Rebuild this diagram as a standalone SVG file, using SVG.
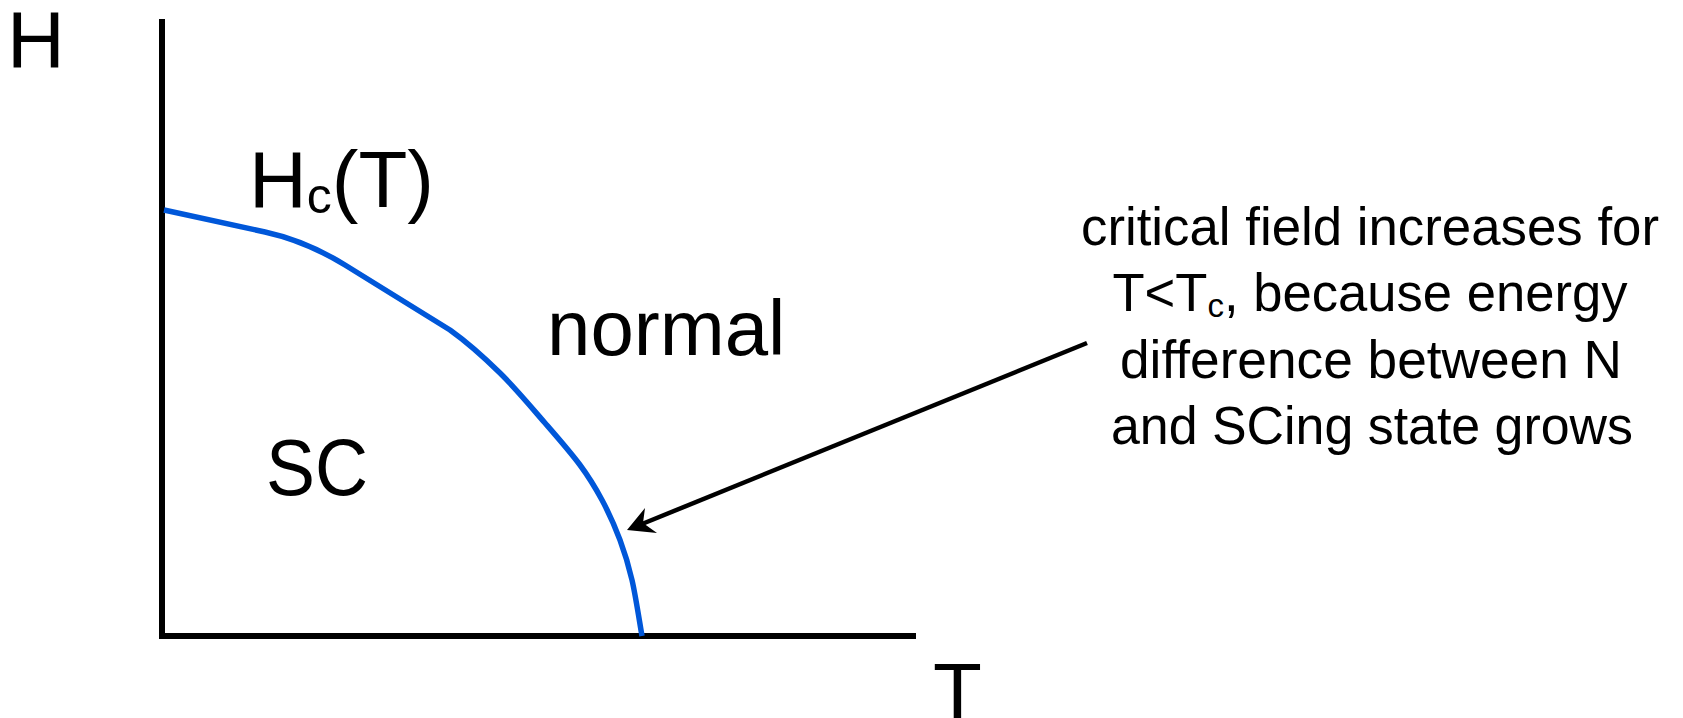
<svg xmlns="http://www.w3.org/2000/svg" width="1683" height="718" viewBox="0 0 1683 718">
<style>
.lbl{font-family:"Liberation Sans",Arial,sans-serif;fill:#000}
.big{font-size:80px}
.note{font-size:54px;text-anchor:middle}
.axis{stroke:#000;stroke-width:6;fill:none}
.curve{stroke:#0057d9;stroke-width:5.5;fill:none;stroke-linejoin:round}
.arr{stroke:#000;stroke-width:4.5;fill:none}
</style>
<rect width="1683" height="718" fill="#fff"/>
<g id="axes">
<line class="axis" x1="162" y1="19" x2="162" y2="639"/>
<line class="axis" x1="159" y1="636" x2="916" y2="636"/>
</g>
<g id="curve-Hc">
<path class="curve" d="M164,210 L265,232 Q306,241 345,265 L450,330 C470,344.3 484.2,357.5 500,373 C515.8,388.5 531.7,407.7 545,423 C558.3,438.3 570.5,452.2 580,465 C589.5,477.8 595.3,487.5 602,500 C608.7,512.5 615,526.7 620,540 C625,553.3 628.3,564 632,580 C635.7,596 640.3,626.7 642,636"/>
</g>
<g id="label-H"><text class="lbl big" x="7" y="67">H</text></g>
<g id="label-T"><text class="lbl big" x="933" y="719">T</text></g>
<g id="label-HcT"><text class="lbl big" x="249" y="207">H<tspan font-size="50" dy="6">c</tspan><tspan dy="-6">(T)</tspan></text></g>
<g id="label-normal"><text class="lbl" font-size="78" x="547" y="355">normal</text></g>
<g id="label-SC"><text class="lbl big" x="266" y="495" textLength="102" lengthAdjust="spacingAndGlyphs">SC</text></g>
<g id="note">
<text class="lbl note" x="1370" y="245" textLength="578" lengthAdjust="spacingAndGlyphs">critical field increases for</text>
<text class="lbl note" x="1370" y="311" textLength="515" lengthAdjust="spacingAndGlyphs">T&lt;T<tspan font-size="34" dy="6">c</tspan><tspan dy="-6">, because energy</tspan></text>
<text class="lbl note" x="1371" y="378" textLength="502" lengthAdjust="spacingAndGlyphs">difference between N</text>
<text class="lbl note" x="1372" y="444" textLength="522" lengthAdjust="spacingAndGlyphs">and SCing state grows</text>
</g>
<g id="connectors">
<line class="arr" x1="1087" y1="343" x2="642" y2="524"/>
<polygon points="627,530 645,508 643,523 657,533" fill="#000"/>
</g>
</svg>
